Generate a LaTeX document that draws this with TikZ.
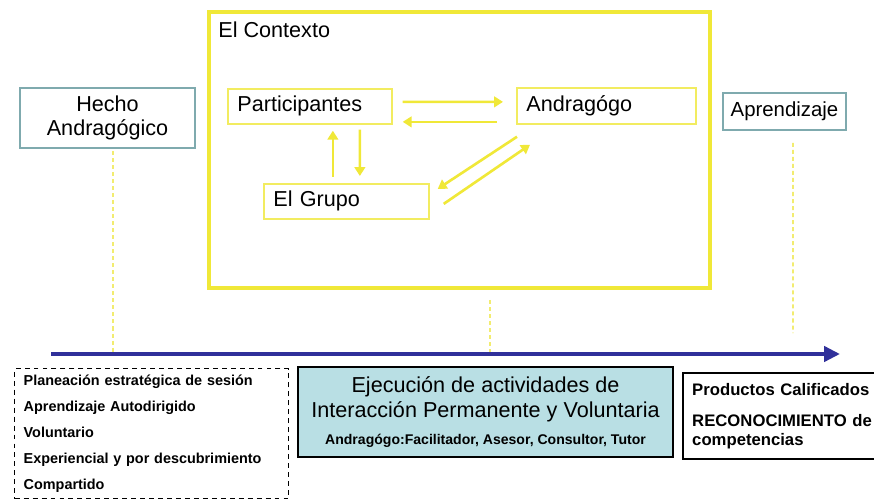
\documentclass[tikz,border=0pt]{standalone}
\usepackage{fontspec}
\setmainfont{Liberation Sans}
\usetikzlibrary{arrows.meta}
\definecolor{ctxyellow}{HTML}{F0E838}
\definecolor{boxyellow}{HTML}{F2EC60}
\definecolor{dashyellow}{HTML}{F2EC70}
\definecolor{hechoteal}{HTML}{7FAAAE}
\definecolor{axisblue}{HTML}{30309A}
\definecolor{ejecfill}{HTML}{B9DFE4}

\tikzset{
  ybox/.style={draw=boxyellow, line width=1pt, inner xsep=0.19cm, inner ysep=0pt,
    text width=#1, align=left, minimum height=0.7cm, font=\fontsize{12.3}{14}\selectfont},
  tbox/.style={draw=hechoteal, line width=0.9pt, align=center, inner sep=0pt,
    font=\fontsize{12.3}{13.8}\selectfont},
  yarrow/.style={ctxyellow, line width=1.5pt, -{Triangle[length=5pt,width=6pt]}},
  ydash/.style={dashyellow, line width=1.1pt, dash pattern=on 2.3pt off 1.7pt},
}

\begin{document}
\begin{tikzpicture}[x=0.02cm, y=-0.02cm]
\useasboundingbox (0,0) rectangle (874,499);

% el contexto
\draw[ctxyellow, line width=2.3pt] (209,12) rectangle (710,288);
\coordinate (ctx) at (209,12);
\node[anchor=north west, inner sep=0pt, font=\fontsize{12.3}{14}\selectfont] (ctxlabel)
  at ([shift={(9,9)}]ctx) {El Contexto};
\node[ybox=2.9cm, anchor=north west] (part) at (227,88) {Participantes};
\node[ybox=3.2cm, anchor=north west, minimum height=0.72cm] (andr) at (516,87) {Andragógo};
\node[ybox=2.92cm, anchor=north west] (grupo) at (263,183) {El Grupo};

\draw[yarrow] ([shift={(10,-4.5)}]part.east) -- ([shift={(-13,-4)}]andr.west);
\draw[yarrow] ([shift={(-19,16)}]andr.west) -- ([shift={(10,15.5)}]part.east);
\draw[yarrow] ([shift={(-13.5,-6)}]grupo.north) -- ([shift={(23,6)}]part.south);
\draw[yarrow] ([shift={(50,5)}]part.south) -- ([shift={(13.5,-7)}]grupo.north);
\draw[yarrow] ([shift={(1,12)}]andr.south west) -- ([shift={(8,-12.5)}]grupo.east);
\draw[yarrow] ([shift={(14,2.5)}]grupo.east) -- ([shift={(14,20)}]andr.south west);

% linea de tiempo
\node[tbox, minimum width=3.5cm, minimum height=1.2cm] (hecho) at (107.5,118) {Hecho\\Andragógico};
\node[tbox, minimum width=2.46cm, minimum height=0.74cm, font=\fontsize{11.6}{13}\selectfont]
  (aprend) at (784.5,111.5) {Aprendizaje};
\coordinate (axs) at (51,354);
\coordinate (axe) at (840,354);
\draw[axisblue, line width=2.3pt, -{Triangle[length=9pt,width=8.5pt]}] (axs) -- (axe);

\draw[ydash] ([shift={(5.5,2)}]hecho.south) -- ([xshift=5.5*0.02cm]hecho.south |- axs);
\draw[ydash] (490,300) -- (490,352);
\draw[ydash] ([shift={(8.5,12)}]aprend.south) -- (793,333);

% fases
\node[draw, line width=0.8pt, dash pattern=on 2.8pt off 2.3pt, anchor=north west,
  minimum width=5.48cm, minimum height=2.58cm, text width=5.12cm, align=left,
  inner xsep=0.18cm, font=\bfseries\fontsize{8.2}{14.9}\selectfont] (plan) at (14,368)
  {Planeación estratégica de sesión\\Aprendizaje Autodirigido\\Voluntario\\
   Experiencial y por descubrimiento\\Compartido};
\node[draw, fill=ejecfill, line width=1.2pt, minimum width=7.5cm, minimum height=1.8cm,
  align=center, inner sep=0pt, font=\fontsize{12.3}{14.2}\selectfont] (ejec) at (485.5,412)
  {Ejecución de actividades de\\Interacción Permanente y Voluntaria\\[1pt]
   {\bfseries\fontsize{8}{12}\selectfont Andragógo:Facilitador, Asesor, Consultor, Tutor}};
\node[draw, line width=1.4pt, anchor=north west, minimum width=4.04cm, minimum height=1.72cm,
  text width=3.68cm, align=left, inner xsep=0.18cm,
  font=\bfseries\fontsize{9.5}{10.8}\selectfont] (prod) at (682,372)
  {Productos Calificados\\[7pt]RECONOCIMIENTO de\\competencias};
\end{tikzpicture}
\end{document}
